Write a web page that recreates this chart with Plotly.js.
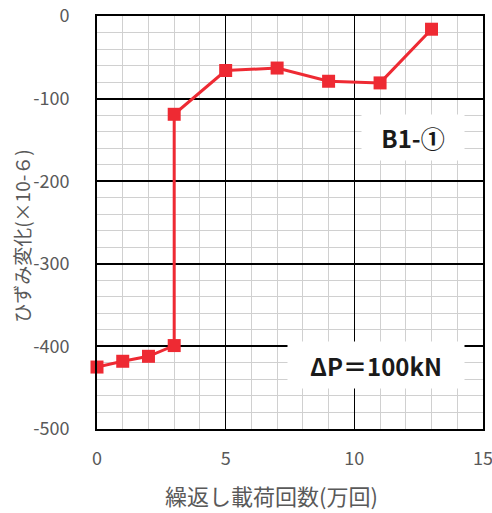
<!DOCTYPE html>
<html><head><meta charset="utf-8">
<script src="https://cdn.plot.ly/plotly-3.0.1.min.js"></script>
<style>html,body{margin:0;padding:0;background:#fff}</style>
</head><body>
<div id="chart" style="width:492px;height:513px"></div>
<script>
const cycles = [0, 1, 2, 3, 3, 5, 7, 9, 11, 13];
const strainChange = [-425, -418, -412, -399, -119, -66, -63, -79, -81, -16];
const yTickVals = [0, -100, -200, -300, -400, -500];
const yTickText = ['0', '-100', '-200', '-300', '-400', '-500'];
const xTitle = '繰返し載荷回数(万回)';
const yTitle = 'ひずみ変化(×10-６)';
const label1 = 'B1-①';
const label2 = 'ΔP＝100kN';

const font = 'Noto Sans CJK JP, Noto Sans, sans-serif';
Plotly.newPlot('chart', [{
  x: cycles, y: strainChange, type: 'scatter', mode: 'lines+markers',
  line: {color: '#EE2A33', width: 3},
  marker: {symbol: 'square', size: 13, color: '#EE2A33'},
  cliponaxis: false, showlegend: false
}], {
  width: 492, height: 513,
  margin: {l: 97, r: 9, t: 16, b: 84},
  paper_bgcolor: '#fff', plot_bgcolor: '#fff',
  font: {family: font, color: '#595959', size: 16},
  xaxis: {
    range: [0, 15], dtick: 5, tick0: 0, showgrid: true, gridcolor: '#000', gridwidth: 1,
    minor: {dtick: 1, showgrid: true, gridcolor: '#d0d0d0', gridwidth: 1},
    showline: true, linecolor: '#000', linewidth: 2, mirror: true, zeroline: false,
    ticks: 'outside', ticklen: 12, tickcolor: 'rgba(0,0,0,0)', ticklabeloverflow: 'allow',
    tickfont: {size: 18, color: '#595959'}
  },
  yaxis: {
    range: [-500, 0], tickmode: 'array', tickvals: yTickVals, ticktext: yTickText,
    showgrid: true, gridcolor: '#000', gridwidth: 2,
    minor: {dtick: 20, showgrid: true, gridcolor: '#d0d0d0', gridwidth: 1},
    showline: true, linecolor: '#000', linewidth: 2, mirror: true, zeroline: false,
    ticks: 'outside', ticklen: 22, tickcolor: 'rgba(0,0,0,0)', ticklabeloverflow: 'allow',
    tickfont: {size: 18, color: '#595959'}
  },
  annotations: [
    {x: 0.453, y: -0.16, xref: 'paper', yref: 'paper', text: xTitle, showarrow: false,
     xanchor: 'center', yanchor: 'middle', font: {size: 22, color: '#595959', family: font}},
    {x: -0.194, y: 0.468, xref: 'paper', yref: 'paper', text: yTitle, showarrow: false, textangle: -90,
     xanchor: 'center', yanchor: 'middle', font: {size: 19, color: '#595959', family: font}},
    {x: 12.28, y: -146.5, xref: 'x', yref: 'y', text: '<b>' + label1 + '</b>', showarrow: false,
     font: {size: 24, color: '#1a1a1a', family: font}, bgcolor: '#fff', width: 100, height: 43},
    {x: 10.84, y: -422.5, xref: 'x', yref: 'y', text: '<b>' + label2 + '</b>', showarrow: false,
     font: {size: 24, color: '#1a1a1a', family: font}, bgcolor: '#fff', width: 174, height: 44}
  ]
}, {displayModeBar: false, staticPlot: true});
</script>
</body></html>
